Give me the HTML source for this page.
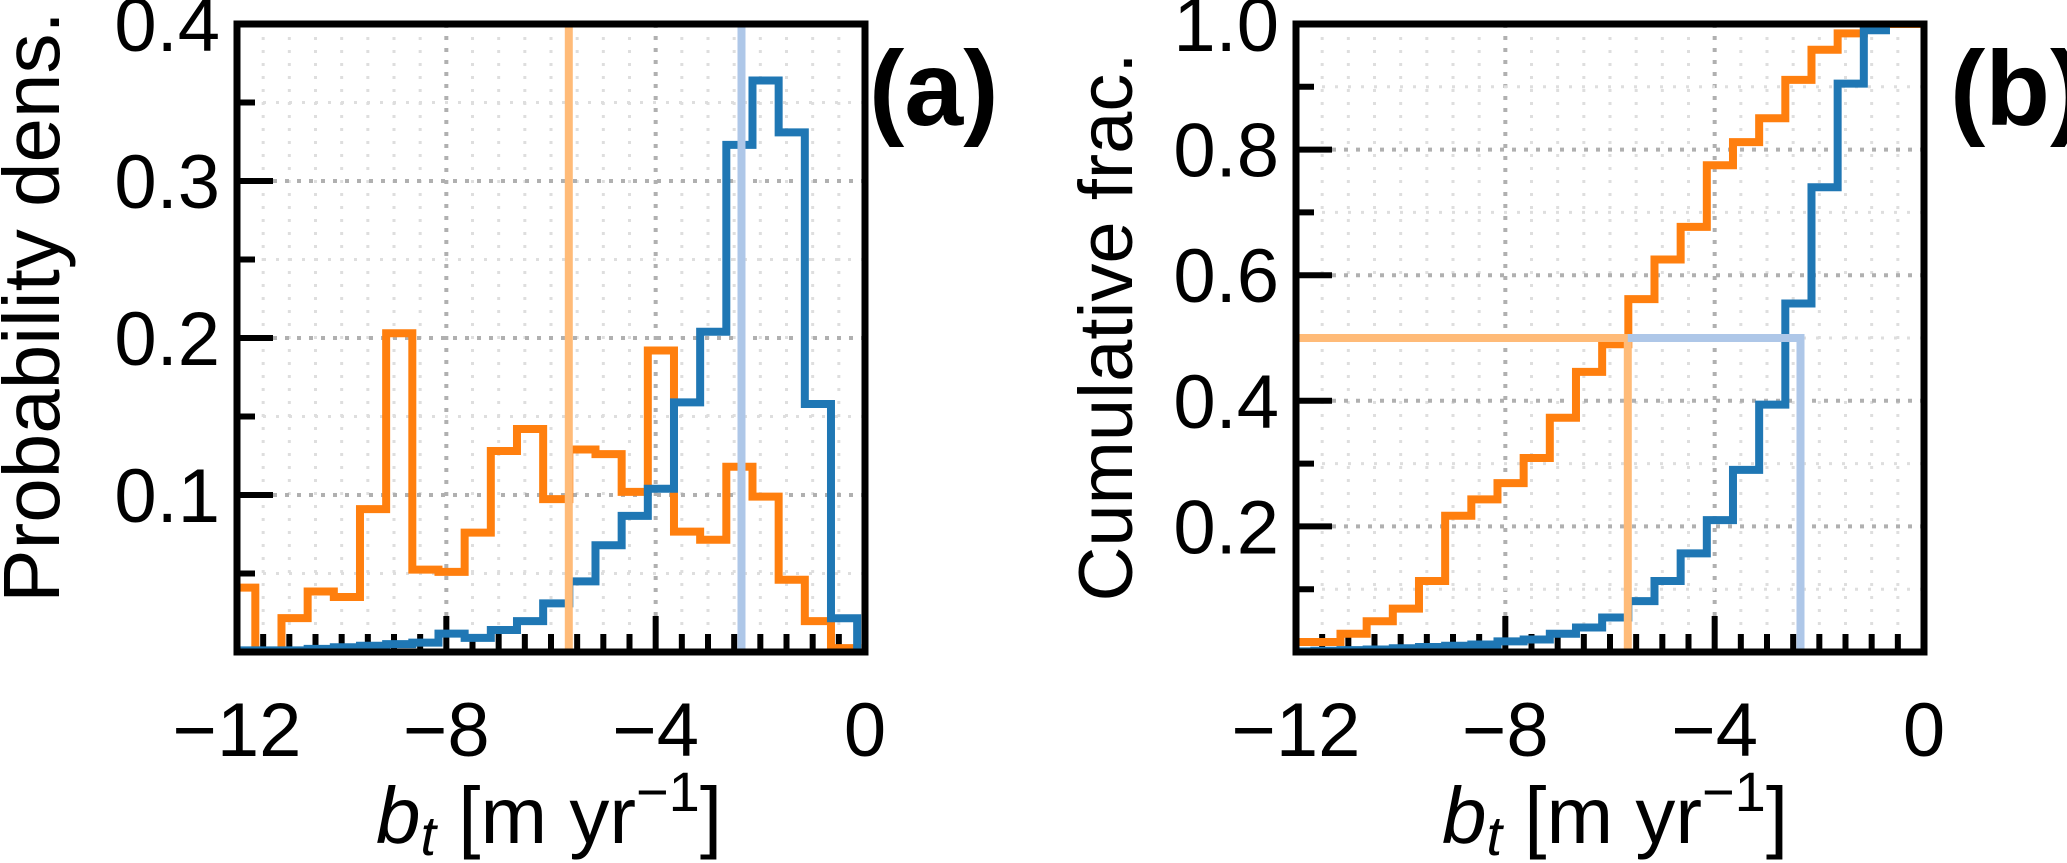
<!DOCTYPE html>
<html><head><meta charset="utf-8">
<style>
html,body{margin:0;padding:0;background:#fff;}
svg{display:block;font-family:"Liberation Sans",sans-serif;}
</style></head>
<body>
<svg id="fig" width="2067" height="863" viewBox="0 0 2067 863" xmlns="http://www.w3.org/2000/svg">
  <defs>
    <clipPath id="clipA"><rect x="237" y="24" width="628" height="628"/></clipPath>
    <clipPath id="clipB"><rect x="1296" y="24" width="628" height="628"/></clipPath>
  </defs>
  <g id="panelA"></g>
  <g id="panelB"></g>
  <text x="38" y="307" font-size="80" text-anchor="middle" dominant-baseline="middle" transform="rotate(-90 38 307)">Probability dens.</text>
  <text x="1112" y="327" font-size="76" text-anchor="middle" dominant-baseline="middle" transform="rotate(-90 1112 327)">Cumulative frac.</text>
  <text x="549" y="843" font-size="80" text-anchor="middle"><tspan font-style="italic">b</tspan><tspan font-style="italic" font-size="56" dy="12">t</tspan><tspan dy="-12"> [m yr</tspan><tspan font-size="56" dy="-32">−1</tspan><tspan dy="32">]</tspan></text>
  <text x="1615" y="843" font-size="80" text-anchor="middle"><tspan font-style="italic">b</tspan><tspan font-style="italic" font-size="56" dy="12">t</tspan><tspan dy="-12"> [m yr</tspan><tspan font-size="56" dy="-32">−1</tspan><tspan dy="32">]</tspan></text>
  <text x="869" y="125" font-size="106" font-weight="bold">(a)</text>
  <text x="1950" y="125" font-size="106" font-weight="bold">(b)</text>
</svg>
<script>
// ---- data ----
const binStart = -12.15;
const binWidth = 0.5;
const histOrange = [0.041,0,0.0216,0.0385,0.035,0.091,0.203,0.0525,0.051,0.076,0.128,0.142,0.0974,0.129,0.126,0.102,0.192,0.0767,0.0715,0.118,0.099,0.046,0.0197,0.0025];
const histBlue = [0.001,0.001,0.001,0.002,0.003,0.004,0.005,0.006,0.0117,0.009,0.014,0.0197,0.031,0.045,0.068,0.0867,0.104,0.159,0.204,0.323,0.364,0.331,0.158,0.0215];
const cdfOrange = [0.016,0.016,0.029,0.049,0.069,0.113,0.217,0.243,0.269,0.309,0.373,0.446,0.49,0.562,0.625,0.677,0.775,0.812,0.85,0.911,0.959,0.985,1.0,1.0];
const cdfBlue = [0.001,0.002,0.003,0.004,0.006,0.008,0.010,0.012,0.017,0.02,0.029,0.039,0.055,0.081,0.113,0.157,0.21,0.29,0.394,0.555,0.74,0.905,0.99];
const medianOrange = -5.66;
const medianBlue = -2.36;
const xTicks = [-12,-8,-4,0];
const xTickLabels = ["−12","−8","−4","0"];
const yTicksA = [0.1,0.2,0.3,0.4];
const yTickLabelsA = ["0.1","0.2","0.3","0.4"];
const yTicksB = [0.2,0.4,0.6,0.8,1.0];
const yTickLabelsB = ["0.2","0.4","0.6","0.8","1.0"];

const NS = "http://www.w3.org/2000/svg";
function mk(tag, attrs, parent){
  const e = document.createElementNS(NS, tag);
  for (const k in attrs) e.setAttribute(k, attrs[k]);
  parent.appendChild(e);
  return e;
}
function makeAxes(g, left, ymax, yMinorStep, yTicks, yLabels, clipId, suffix){
  const top = 24, size = 628, bottom = top + size;
  const X = v => left + (v + 12) / 12 * size;
  const Y = v => bottom - v / ymax * size;
  for (let v = -11.5; v < 0; v += 0.5) {
    const major = xTicks.indexOf(v) >= 0;
    const l = mk('line', {x1:X(v),x2:X(v),y1:top,y2:bottom,stroke:major?'#b0b0b0':'#dedede','stroke-width':major?4:3,'stroke-dasharray':major?'4 8':'3 10'}, g);
    
    
  }
  for (let i = 1; i * yMinorStep < ymax - 1e-9; i++) {
    const v = i * yMinorStep;
    const major = yTicks.some(t => Math.abs(t - v) < 1e-9);
    const l = mk('line', {x1:left,x2:left+size,y1:Y(v),y2:Y(v),stroke:major?'#b0b0b0':'#dedede','stroke-width':major?4:3,'stroke-dasharray':major?'4 8':'3 10'}, g);
    
    
  }
  for (let v = -11.5; v < 0; v += 0.5) {
    const major = xTicks.indexOf(v) >= 0;
    const t = mk('line', {x1:X(v),x2:X(v),y1:bottom,y2:bottom-(major?36:18),stroke:'#000','stroke-width':6}, g);
    
    
  }
  for (let i = 1; i * yMinorStep < ymax - 1e-9; i++) {
    const v = i * yMinorStep;
    const major = yTicks.some(t => Math.abs(t - v) < 1e-9);
    const t = mk('line', {x1:left,x2:left+(major?36:18),y1:Y(v),y2:Y(v),stroke:'#000','stroke-width':6}, g);
    
    
  }
  xTicks.forEach((v, i) => {
    const t = mk('text', {x:X(v),y:756,'font-size':76,'text-anchor':'middle'}, g);
    t.textContent = xTickLabels[i];
    
    
  });
  yTicks.forEach((v, i) => {
    const t = mk('text', {x:left-17,y:Y(v)+27,'font-size':76,'text-anchor':'end'}, g);
    t.textContent = yLabels[i];
    
    
  });
  const plot = mk('g', {'clip-path':'url(#'+clipId+')'}, g);
  
  
  return {X, Y, plot, left, top, size, bottom};
}
function stepPath(ax, vals, closeZero, extendTo){
  let d = '';
  vals.forEach((v, i) => {
    const x0 = ax.X(binStart + i * binWidth), x1 = ax.X(binStart + (i + 1) * binWidth);
    if (i === 0) d += (closeZero ? 'M' + x0 + ',' + ax.Y(0) + ' L' : 'M') + x0 + ',' + ax.Y(v);
    else d += ' L' + x0 + ',' + ax.Y(v);
    d += ' L' + x1 + ',' + ax.Y(v);
  });
  const xe = ax.X(binStart + vals.length * binWidth);
  if (closeZero) d += ' L' + xe + ',' + ax.Y(0);
  if (extendTo !== undefined) d += ' L' + ax.X(extendTo) + ',' + ax.Y(vals[vals.length - 1]);
  return d;
}
function frame(g, ax){
  const r = mk('rect', {x:ax.left,y:ax.top,width:ax.size,height:ax.size,fill:'none',stroke:'#000','stroke-width':7}, g);
  
  
}

// Panel A
const gA = document.getElementById('panelA');
const A = makeAxes(gA, 237, 0.4, 0.05, yTicksA, yTickLabelsA, 'clipA', 'a');
let p = mk('path', {d:stepPath(A, histOrange, true), fill:'none', stroke:'#ff7f0e','stroke-width':8}, A.plot);


p = mk('path', {d:stepPath(A, histBlue, true), fill:'none', stroke:'#1f77b4','stroke-width':8}, A.plot);


p = mk('line', {x1:A.X(medianOrange),x2:A.X(medianOrange),y1:A.top,y2:A.bottom,stroke:'#ffbb78','stroke-width':8}, A.plot);


p = mk('line', {x1:A.X(medianBlue),x2:A.X(medianBlue),y1:A.top,y2:A.bottom,stroke:'#aec7e8','stroke-width':8}, A.plot);


frame(gA, A);

// Panel B
const gB = document.getElementById('panelB');
const B = makeAxes(gB, 1296, 1.0, 0.1, yTicksB, yTickLabelsB, 'clipB', 'b');
p = mk('path', {d:stepPath(B, cdfOrange, false, 0), fill:'none', stroke:'#ff7f0e','stroke-width':8}, B.plot);


p = mk('path', {d:stepPath(B, cdfBlue, false), fill:'none', stroke:'#1f77b4','stroke-width':8}, B.plot);


p = mk('path', {d:'M'+B.X(-12)+','+B.Y(0.5)+' L'+B.X(medianOrange)+','+B.Y(0.5)+' L'+B.X(medianOrange)+','+B.Y(0), fill:'none', stroke:'#ffbb78','stroke-width':8}, B.plot);


p = mk('path', {d:'M'+B.X(medianOrange)+','+B.Y(0.5)+' L'+B.X(medianBlue)+','+B.Y(0.5)+' L'+B.X(medianBlue)+','+B.Y(0), fill:'none', stroke:'#aec7e8','stroke-width':8}, B.plot);


frame(gB, B);
</script>
</body></html>
